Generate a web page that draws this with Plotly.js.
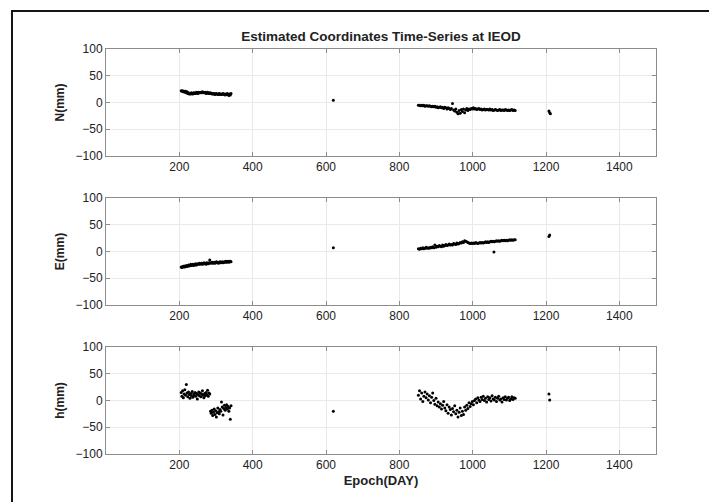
<!DOCTYPE html>
<html>
<head>
<meta charset="utf-8">
<script src="https://cdn.plot.ly/plotly-3.0.1.min.js"></script>
<style>html,body{margin:0;padding:0;background:#fff}#chart{width:709px;height:502px}</style>
</head>
<body>
<div id="chart"></div>
<script>
// ---- data ----
const titleText = "Estimated Coordinates Time-Series at IEOD";
const xTickVals = [200, 400, 600, 800, 1000, 1200, 1400];
const yTickVals = [-100, -50, 0, 50, 100];

const days1 = [205,207,209,211,213,215,217,219,221,223,225,227,229,231,233,235,237,239,241,243,245,247,249,251,253,255,257,259,261,263,265,267,269,271,273,275,277,279,281,283,285,287,289,291,293,295,297,299,301,303,305,307,309,311,313,315,317,319,321,323,325,327,329,331,333,335,337,339,341];
const days2 = [852,855,858,861,864,867,870,873,876,879,882,885,888,891,894,897,900,903,906,909,912,915,918,921,924,927,930,933,936,939,942,945,948,951,954,957,960,963,966,969,972,975,978,981,984,987,990,993,996,999,1002,1005,1008,1011,1014,1017,1020,1023,1026,1029,1032,1035,1038,1041,1044,1047,1050,1053,1056,1059,1062,1065,1068,1071,1074,1077,1080,1083,1086,1089,1092,1095,1098,1101,1104,1107,1110,1113,1116];

const nSeg1 = [22,21,22,20,21,19,21,18,20,17,18,16,17,16,18,17,16,18,17,18,17,19,18,17,19,18,19,18,19,20,18,19,18,19,17,18,19,17,18,17,18,17,16,17,16,17,15,16,17,16,15,16,17,15,16,15,16,17,15,16,14,16,15,17,15,13,16,14,17];
const nSeg2 = [-5,-5,-6,-5,-6,-5,-7,-6,-6,-7,-6,-7,-8,-7,-8,-7,-9,-8,-10,-9,-8,-10,-9,-11,-9,-10,-12,-10,-11,-13,-11,-2,-14,-16,-12,-18,-21,-15,-20,-13,-17,-12,-19,-14,-11,-15,-12,-13,-11,-12,-10,-12,-11,-13,-12,-11,-13,-12,-14,-13,-12,-14,-13,-13,-14,-12,-14,-13,-15,-14,-13,-14,-15,-14,-13,-15,-14,-14,-15,-13,-14,-15,-14,-15,-14,-13,-15,-14,-15];
const nExtraDays = [620, 1208, 1210, 1212];
const nExtra = [4, -16, -19, -21];

const eSeg1 = [-29,-30,-28,-29,-27,-29,-28,-26,-28,-27,-25,-27,-26,-24,-26,-25,-24,-26,-24,-25,-23,-25,-24,-23,-24,-22,-24,-23,-22,-24,-23,-21,-23,-22,-24,-21,-22,-23,-21,-16,-22,-21,-20,-22,-21,-20,-22,-21,-19,-21,-20,-22,-20,-19,-21,-20,-19,-21,-20,-19,-20,-18,-20,-19,-18,-20,-19,-18,-19];
const eSeg2 = [5,4,6,5,7,5,6,8,6,7,6,8,7,9,7,12,8,10,9,11,10,9,12,10,11,13,11,12,14,12,13,12,15,14,13,16,14,15,17,16,18,17,20,19,18,17,16,15,16,15,16,15,17,16,15,16,17,16,17,16,17,18,17,18,17,18,19,18,19,18,19,20,19,20,19,20,21,20,21,20,21,20,21,22,21,22,21,22,22];
const eExtraDays = [620, 1058, 1208, 1210];
const eExtra = [7, -1, 28, 31];

const hSeg1 = [15,8,18,5,12,20,10,30,14,7,16,11,4,13,9,17,6,12,10,15,8,13,3,11,16,9,14,7,12,18,10,5,13,9,15,11,19,8,14,12,-20,-24,-18,-28,-22,-16,-26,-19,-31,-23,-14,-21,-25,-17,-20,-3,-12,-27,-15,-9,-18,-13,-8,-16,-11,-20,-14,-35,-10];
const hSeg2 = [10,18,3,14,-2,8,16,5,12,1,9,-4,6,14,0,-7,4,-10,-3,-12,-6,-16,-9,-2,-14,-19,-8,-24,-12,-17,-27,-15,-21,-10,-25,-18,-31,-22,-14,-28,-20,-26,-12,-18,-9,-15,-4,-11,-6,-2,-8,0,3,-4,5,1,-2,6,2,8,0,4,-3,7,2,5,-1,9,3,1,6,-2,4,8,1,3,-3,5,2,7,1,4,6,0,3,7,2,5,4];
const hExtraDays = [620, 1208, 1210];
const hExtra = [-20, 12, 1];

const panelTitles = ["N(mm)", "E(mm)", "h(mm)"];
const xTitle = "Epoch(DAY)";

// ---- build ----
const panels = [
  [nSeg1, nSeg2, nExtraDays, nExtra],
  [eSeg1, eSeg2, eExtraDays, eExtra],
  [hSeg1, hSeg2, hExtraDays, hExtra]
];
const FONT = "'Liberation Sans', Arial, Helvetica, sans-serif";
const W = 709, H = 502;
const xDom = [106 / W, 656 / W];
const yPix = [[49, 156], [198, 305], [347, 454]];

const traces = [];
const layout = {
  width: W, height: H,
  margin: {l: 0, r: 0, t: 0, b: 0},
  paper_bgcolor: '#fff', plot_bgcolor: '#fff',
  showlegend: false,
  font: {family: FONT, size: 12, color: '#222'},
  title: {text: '<b>' + titleText + '</b>', x: (106 + 656) / 2 / W, xanchor: 'center',
          y: 1 - 36 / H, yanchor: 'middle', font: {family: FONT, size: 13.5, color: '#222'}},
  shapes: [{type: 'path', xref: 'paper', yref: 'paper',
            path: 'M ' + (12 / W) + ',-0.2 L ' + (12 / W) + ',' + (1 - 11 / H) + ' L 1.2,' + (1 - 11 / H),
            line: {color: '#151515', width: 2}}]
};

panels.forEach((p, i) => {
  const k = i + 1;
  const xa = 'x' + (k === 1 ? '' : k), ya = 'y' + (k === 1 ? '' : k);
  const xs = days1.concat(days2, p[2]);
  const ys = p[0].concat(p[1], p[3]);
  traces.push({type: 'scatter', mode: 'markers', x: xs, y: ys, xaxis: xa, yaxis: ya,
               marker: {color: '#000', size: 3}, hoverinfo: 'x+y'});
  const axCommon = {
    showline: true, linecolor: '#8c8c8c', linewidth: 1, mirror: 'ticks',
    ticks: 'inside', ticklen: 4, tickcolor: '#8c8c8c', tickwidth: 1,
    showgrid: true, gridcolor: '#e9e9e9', gridwidth: 1, zeroline: false,
    tickfont: {family: FONT, size: 12, color: '#222'}
  };
  layout['xaxis' + (k === 1 ? '' : k)] = Object.assign({}, axCommon, {
    domain: xDom, range: [0, 1500], tickmode: 'array', tickvals: xTickVals,
    anchor: ya, fixedrange: true,
    title: k === 3 ? {text: '<b>' + xTitle + '</b>', standoff: 4, font: {family: FONT, size: 13, color: '#222'}} : undefined
  });
  const py = yPix[i];
  layout['yaxis' + (k === 1 ? '' : k)] = Object.assign({}, axCommon, {
    domain: [1 - py[1] / H, 1 - py[0] / H], range: [-100, 100], tickmode: 'array', tickvals: yTickVals,
    anchor: xa, fixedrange: true,
    title: {text: '<b>' + panelTitles[i] + '</b>', standoff: 8, font: {family: FONT, size: 12, color: '#222'}}
  });
});

Plotly.newPlot('chart', traces, layout, {staticPlot: true, displayModeBar: false});
</script>
</body>
</html>
